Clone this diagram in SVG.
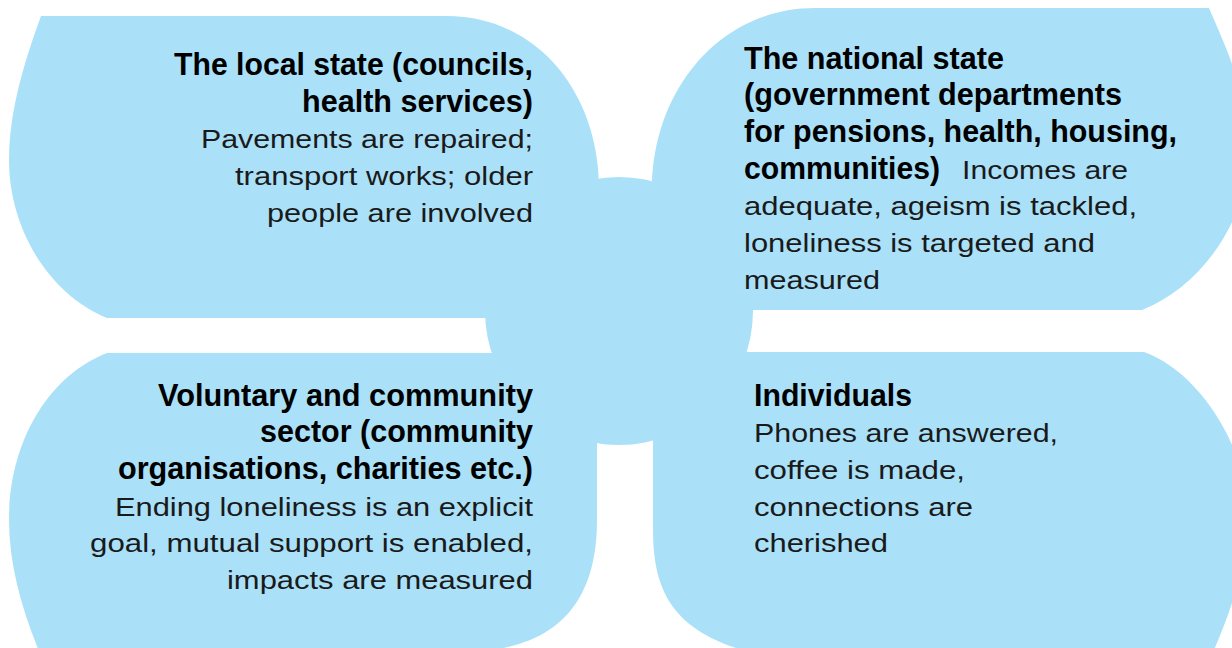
<svg xmlns="http://www.w3.org/2000/svg" width="1232" height="648" viewBox="0 0 1232 648">
<style>
.leaf{fill:#aae1f9;}
.t{font-family:"Liberation Sans",Arial,sans-serif;font-size:30.5px;font-weight:bold;fill:#000;}
.b{font-family:"Liberation Sans",Arial,sans-serif;font-size:25.5px;fill:#1a1a1a;}
.r{text-anchor:end;}
</style>
<rect width="1232" height="648" fill="#ffffff"/>
<g id="hub">
<circle class="leaf" cx="619" cy="311" r="134"/>
</g>
<g id="local-state">
<path class="leaf" d="M41,16 L447,16 C535,16 599,90 599,190 L599,318 L107,318 C50,295 9,230 9,160 C9,110 25,60 41,16 Z"/>
<text class="t r" x="533" y="75" textLength="359" lengthAdjust="spacingAndGlyphs">The local state (councils,</text>
<text class="t r" x="533" y="111.7" textLength="231" lengthAdjust="spacingAndGlyphs">health services)</text>
<text class="b r" x="533" y="148.4" textLength="332" lengthAdjust="spacingAndGlyphs">Pavements are repaired;</text>
<text class="b r" x="533" y="185.1" textLength="298" lengthAdjust="spacingAndGlyphs">transport works; older</text>
<text class="b r" x="533" y="221.8" textLength="266" lengthAdjust="spacingAndGlyphs">people are involved</text>
</g>
<g id="national-state">
<path class="leaf" d="M652,310 L652,190 C652,90 720,8 815,8 L1209,8 C1225,45 1250,100 1250,145 C1250,215 1205,285 1142,310 Z"/>
<text class="t" x="744" y="68.5" textLength="260" lengthAdjust="spacingAndGlyphs">The national state</text>
<text class="t" x="744" y="105.2" textLength="378" lengthAdjust="spacingAndGlyphs">(government departments</text>
<text class="t" x="744" y="141.9" textLength="433" lengthAdjust="spacingAndGlyphs">for pensions, health, housing,</text>
<text class="t" x="744" y="178.6" textLength="196" lengthAdjust="spacingAndGlyphs">communities)</text>
<text class="b" x="962" y="178.6" textLength="166" lengthAdjust="spacingAndGlyphs">Incomes are</text>
<text class="b" x="744" y="215.3" textLength="393" lengthAdjust="spacingAndGlyphs">adequate, ageism is tackled,</text>
<text class="b" x="744" y="252" textLength="351" lengthAdjust="spacingAndGlyphs">loneliness is targeted and</text>
<text class="b" x="744" y="288.7" textLength="136" lengthAdjust="spacingAndGlyphs">measured</text>
</g>
<g id="voluntary-sector">
<path class="leaf" d="M597,353 L597,520 C597,600 560,648 470,652 L470,670 L47,670 C25,620 9,570 9,520 C9,440 50,375 107,353 Z"/>
<text class="t r" x="533" y="405.7" textLength="375" lengthAdjust="spacingAndGlyphs">Voluntary and community</text>
<text class="t r" x="533" y="442.3" textLength="273" lengthAdjust="spacingAndGlyphs">sector (community</text>
<text class="t r" x="533" y="479" textLength="415" lengthAdjust="spacingAndGlyphs">organisations, charities etc.)</text>
<text class="b r" x="533" y="515.6" textLength="418" lengthAdjust="spacingAndGlyphs">Ending loneliness is an explicit</text>
<text class="b r" x="533" y="552.2" textLength="443" lengthAdjust="spacingAndGlyphs">goal, mutual support is enabled,</text>
<text class="b r" x="533" y="588.8" textLength="306" lengthAdjust="spacingAndGlyphs">impacts are measured</text>
</g>
<g id="individuals">
<path class="leaf" d="M653,352 L1144,352 C1195,370 1245,440 1247,510 C1247,570 1230,615 1205,670 L760,670 L760,655 C680,635 653,600 653,530 Z"/>
<text class="t" x="754" y="405.7" textLength="158" lengthAdjust="spacingAndGlyphs">Individuals</text>
<text class="b" x="754" y="442.3" textLength="304" lengthAdjust="spacingAndGlyphs">Phones are answered,</text>
<text class="b" x="754" y="479" textLength="211" lengthAdjust="spacingAndGlyphs">coffee is made,</text>
<text class="b" x="754" y="515.6" textLength="219" lengthAdjust="spacingAndGlyphs">connections are</text>
<text class="b" x="754" y="552.2" textLength="134" lengthAdjust="spacingAndGlyphs">cherished</text>
</g>
</svg>
